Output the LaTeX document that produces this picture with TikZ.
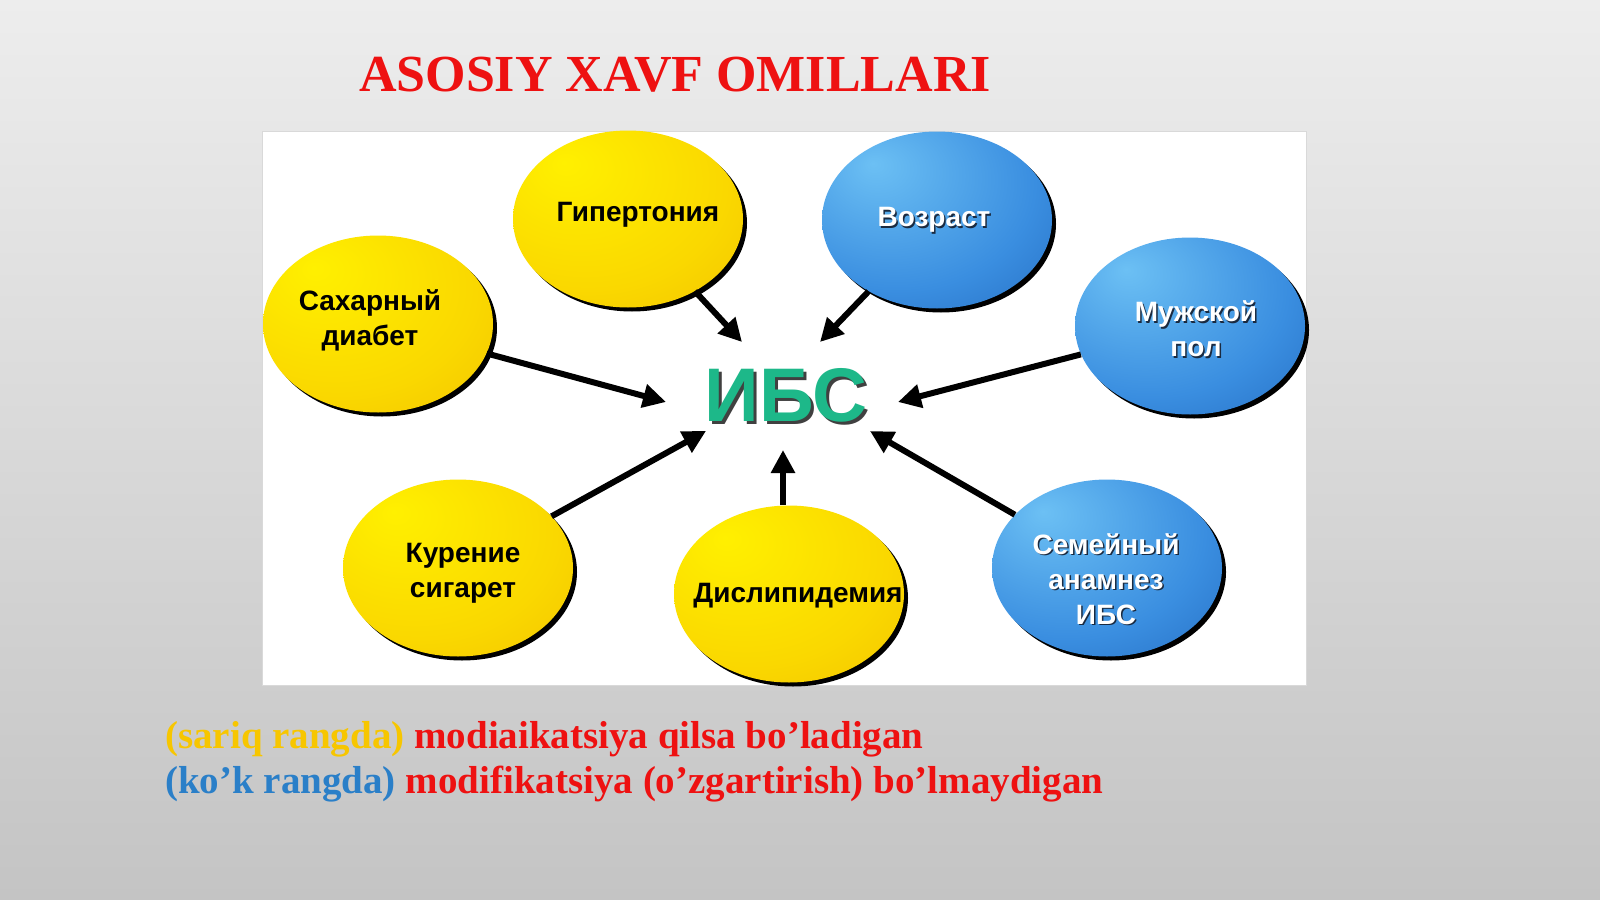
\documentclass[tikz,border=0pt]{standalone}
\usepackage{fontspec}
\setmainfont{Liberation Serif}
\newfontfamily\arialf{Liberation Sans}
\usetikzlibrary{shapes.geometric,shadows,arrows.meta}
\definecolor{bgtop}{HTML}{EDEDED}
\definecolor{bgbot}{HTML}{C4C4C4}
\definecolor{yA}{HTML}{FFF000}
\definecolor{yB}{HTML}{FAD800}
\definecolor{yC}{HTML}{EDB400}
\definecolor{bA}{HTML}{6CC0F4}
\definecolor{bB}{HTML}{3A8EE0}
\definecolor{bC}{HTML}{1656AE}
\definecolor{ttl}{HTML}{EE1111}
\definecolor{ibsg}{HTML}{1DB889}
\definecolor{legy}{HTML}{F7C600}
\definecolor{legb}{HTML}{2A7FC8}
\definecolor{txsh}{HTML}{1A2A40}
\pgfdeclareradialshading{yelsh}{\pgfpoint{-14bp}{16bp}}{color(0bp)=(yA); color(30bp)=(yB); color(60bp)=(yC); color(80bp)=(yC)}
\pgfdeclareradialshading{blush}{\pgfpoint{-14bp}{16bp}}{color(0bp)=(bA); color(30bp)=(bB); color(60bp)=(bC); color(80bp)=(bC)}
\tikzset{
  blob/.style={ellipse, minimum width=230pt, minimum height=177pt, inner sep=0pt,
    drop shadow={shadow xshift=4pt, shadow yshift=-4pt, fill=black, opacity=1}},
  yblob/.style={blob, shading=yelsh},
  bblob/.style={blob, shading=blush},
  ytext/.style={font=\arialf\bfseries\fontsize{28}{35}\selectfont, text=black, align=center, inner sep=0pt},
  wtext/.style={font=\arialf\bfseries\fontsize{28}{35}\selectfont, text=white, align=center, inner sep=0pt},
  stext/.style={font=\arialf\bfseries\fontsize{28}{35}\selectfont, text=txsh, align=center, inner sep=0pt},
  arr/.style={line width=6pt, -{Triangle[length=23pt,width=23pt]}},
  legend/.style={anchor=base west, inner sep=0pt, font=\bfseries\fontsize{39}{44}\selectfont}
}
\begin{document}
\begin{tikzpicture}[x=1pt,y=-1pt]
\useasboundingbox (0,0) rectangle (1600,899);
\shade[top color=bgtop, bottom color=bgbot] (0,0) rectangle (1600,899);
% title
\node[font=\bfseries\fontsize{52}{56}\selectfont, text=ttl, inner sep=0pt] (title) at (675,75) {ASOSIY XAVF OMILLARI};
% panel
\draw[fill=white, draw=black!15, line width=1pt] (262,131) rectangle (1306,685);
% ellipses
\node[yblob] (hyp) at (628,219) {};
\node[bblob] (voz) at (937,220) {};
\node[yblob] (sax) at (378,324) {};
\node[bblob] (muz) at (1190,326) {};
\node[yblob] (kur) at (458,568) {};
\node[yblob] (dis) at (789,594) {};
\node[bblob] (sem) at (1107,568) {};
% texts on yellow
\node[ytext] (hypt) at (638,215) {Гипертония};
\node[ytext] (saxt) at (370,320) {Сахарный\\диабет};
\node[ytext] (kurt) at (463,573) {Курение\\сигарет};
\node[ytext] (dist) at (798,596) {Дислипидемия};
% texts on blue (with shadow)
\node[stext] at (935.5,221.5) {Возраст};
\node[wtext] (vozt) at (934,220) {Возраст};
\node[stext] at (1197.5,330.5) {Мужской\\пол};
\node[wtext] (muzt) at (1196,329) {Мужской\\пол};
\node[stext] at (1107.5,580.5) {Семейный\\анамнез\\ИБС};
\node[wtext] (semt) at (1106,579) {Семейный\\анамнез\\ИБС};
% centre
\node[font=\arialf\bfseries\fontsize{76}{80}\selectfont, text=black!75, inner sep=0pt] at (789,398) {ИБС};
\node[font=\arialf\bfseries\fontsize{76}{80}\selectfont, text=ibsg, inner sep=0pt] (ibs) at (786,395) {ИБС};
% arrow tips
\coordinate (t1) at (742,342);
\coordinate (t2) at (820,342);
\coordinate (t3) at (666,402);
\coordinate (t4) at (898,402);
\coordinate (t5) at (706,431);
\coordinate (t6) at (783,450);
\coordinate (t7) at (870,431);
\draw[arr] (hyp) -- (t1);
\draw[arr] (voz) -- (t2);
\draw[arr] (sax) -- (t3);
\draw[arr] (muz) -- (t4);
\draw[arr] (kur) -- (t5);
\draw[arr] (dis.north -| t6) -- (t6);
\draw[arr] (sem) -- (t7);
% legend
\node[legend] (leg1) at (165,748) {\textcolor{legy}{(sariq rangda)} \textcolor{ttl}{modiaikatsiya qilsa bo’ladigan}};
\node[legend] (leg2) at (165,793) {\textcolor{legb}{(ko’k rangda)} \textcolor{ttl}{modifikatsiya (o’zgartirish) bo’lmaydigan}};
\end{tikzpicture}
\end{document}
